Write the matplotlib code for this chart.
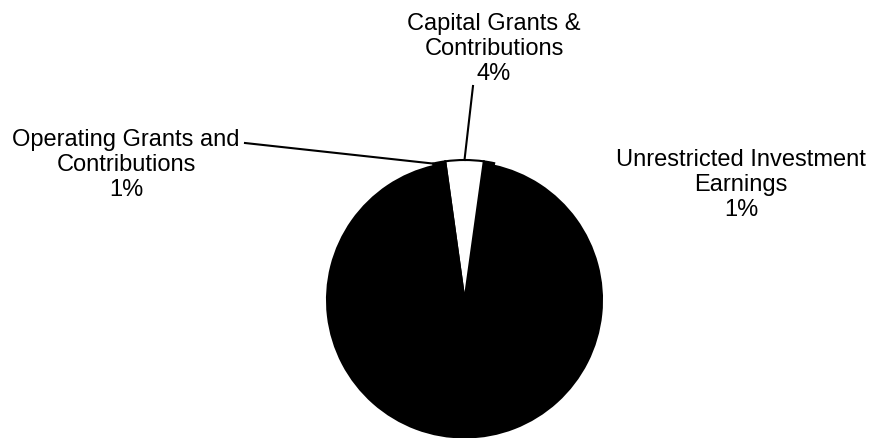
import numpy as np
import matplotlib
matplotlib.use('Agg')
import matplotlib.pyplot as plt

# revenue sources, counter-clockwise from the right of the white wedge
categories = ['Unrestricted Investment\nEarnings', 'Capital Grants &\nContributions',
              'Operating Grants and\nContributions', 'Other']
values = [1.2, 4.4, 1.4, 93.0]
pct_labels = ['1%', '4%', '1%', None]
colors = ['black', 'white', 'black', 'black']

W, H = 872, 438
CENTER = (464.5, H - 300)
RADIUS = 137.5
SMALL_RADIUS = 140


def main():
    plt.rcParams['font.family'] = ['Liberation Sans', 'DejaVu Sans']
    fig = plt.figure(figsize=(W / 100, H / 100), dpi=100)
    ax = fig.add_axes([0, 0, 1, 1])

    total = sum(values)
    start = 90 - 360 * (values[0] + values[1] / 2) / total
    wedges, _ = ax.pie(values, colors=colors, startangle=start, counterclock=True,
                       center=CENTER, radius=RADIUS, frame=True,
                       wedgeprops=dict(edgecolor='black', linewidth=1.5))
    ax.set_xlim(0, W)
    ax.set_ylim(0, H)
    ax.set_aspect('equal')
    ax.axis('off')

    # small slices stick out a little past the rim
    for w in wedges[:3]:
        w.set_radius(SMALL_RADIUS)
        w.set_zorder(3)

    def rim(ang):
        a = np.deg2rad(ang)
        return (CENTER[0] + SMALL_RADIUS * np.cos(a),
                CENTER[1] + SMALL_RADIUS * np.sin(a))

    fs = 17
    # Unrestricted investment earnings (no leader)
    ax.text(741, H - 185, f'{categories[0]}\n{pct_labels[0]}', ha='center', va='center',
            fontsize=fs, linespacing=1.2)
    # Capital grants
    ax.text(494, H - 49, f'{categories[1]}\n{pct_labels[1]}', ha='center', va='center',
            fontsize=fs, linespacing=1.2)
    w = wedges[1]
    p = rim((w.theta1 + w.theta2) / 2)
    ax.plot([473, p[0]], [H - 86, p[1]], color='black', lw=1.5, zorder=4)
    # Operating grants
    ax.text(126, H - 165, f'{categories[2]}\n{pct_labels[2]}', ha='center', va='center',
            fontsize=fs, linespacing=1.2)
    w = wedges[2]
    p = rim(w.theta2)
    ax.plot([245, p[0]], [H - 143, p[1]], color='black', lw=1.5, zorder=4)

    fig.savefig('out.png', dpi=100, facecolor='white')
    plt.close(fig)


if __name__ == '__main__':
    main()
